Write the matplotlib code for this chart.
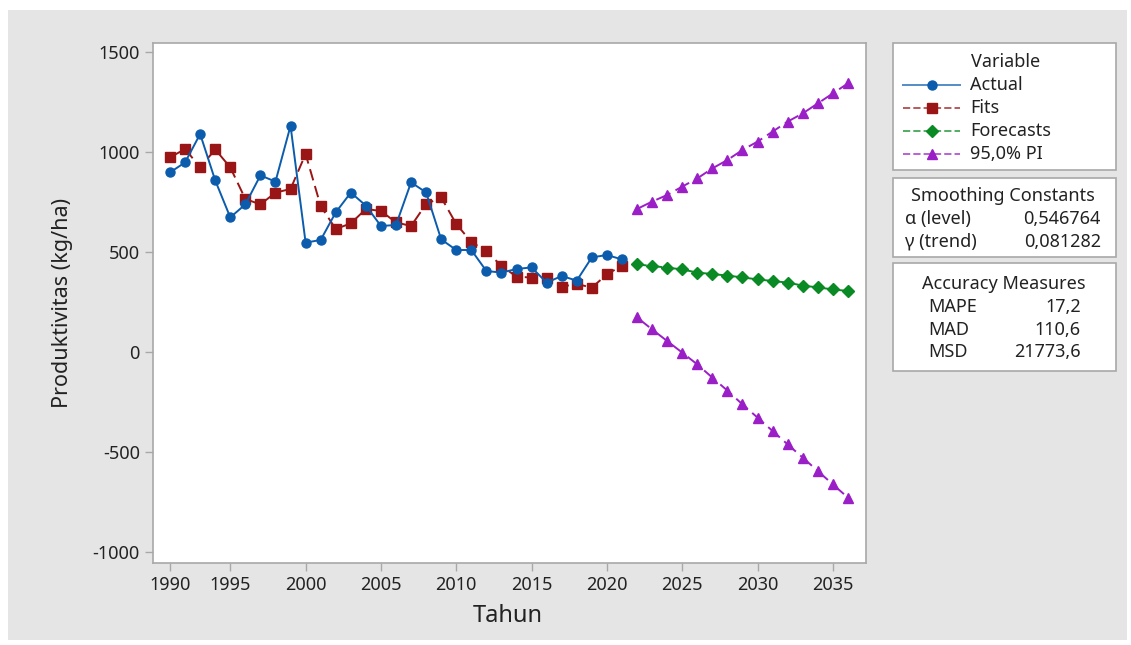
import numpy as np
import matplotlib
matplotlib.use('Agg')
import matplotlib.pyplot as plt
from matplotlib.patches import Rectangle
from matplotlib.lines import Line2D

plt.rcParams['font.family'] = ['Noto Sans', 'DejaVu Sans']
plt.rcParams['axes.unicode_minus'] = False

# Data
years_actual = np.arange(1991, 2022)
actual = [898, 948, 1090, 858, 673, 738, 883, 852, 1131, 547,
          560, 698, 797, 732, 630, 635, 848, 798, 563, 510,
          510, 405, 397, 415, 423, 347, 380, 357, 473, 485, 463]
fits = [973, 1015, 923, 1013, 923, 765, 738, 797, 815, 990,
        730, 615, 643, 715, 705, 648, 630, 740, 773, 640,
        550, 505, 430, 377, 372, 372, 327, 340, 322, 388, 432]

years_fc = np.arange(2022, 2037)
forecasts = [438, 430, 422, 413, 397, 390, 382, 373, 363, 355, 347, 332, 323, 313, 305]
upper_pi = [715, 752, 785, 827, 868, 918, 960, 1010, 1052, 1102, 1152, 1193, 1243, 1293, 1343]
lower_pi = [173, 113, 55, -3, -62, -128, -193, -262, -328, -395, -462, -528, -595, -662, -728]

tick_pos = [1991, 1995, 2000, 2005, 2010, 2015, 2020, 2025, 2030, 2035]
tick_labels = ['1990', '1995', '2000', '2005', '2010', '2015', '2020', '2025', '2030', '2035']

smoothing = [('α (level)', '0,546764'), ('γ (trend)', '0,081282')]
accuracy = [('MAPE', '17,2'), ('MAD', '110,6'), ('MSD', '21773,6')]

W, H = 1131, 645
fig = plt.figure(figsize=(W / 100, H / 100), dpi=100)
fig.patch.set_facecolor('white')
bg = '#e5e5e5'
fig.patches.append(Rectangle((8 / W, 5 / H), 1119 / W, 630 / H, transform=fig.transFigure,
                             facecolor=bg, edgecolor='none', zorder=-10))

ax = fig.add_axes([153 / W, 1 - 563 / H, 713 / W, 520 / H])
ax.set_facecolor('white')

blue = '#0b5cad'
red = '#9a1515'
green = '#0a8a24'
purple = '#9b1fc6'

ax.plot(years_actual, actual, color=blue, lw=1.4, marker='o', ms=6.5, mec=blue, mfc=blue, zorder=4)
ax.plot(years_actual, fits, color=red, lw=1.4, ls=(0, (6, 3)), marker='s', ms=6.5, mec=red, mfc=red, zorder=3)
ax.plot(years_fc, forecasts, color=green, lw=1.4, ls=(0, (5, 3)), marker='D', ms=6, mec=green, mfc=green, zorder=3)
ax.plot(years_fc, upper_pi, color=purple, lw=1.4, ls=(0, (8, 3)), marker='^', ms=7.5, mec=purple, mfc=purple, zorder=3)
ax.plot(years_fc, lower_pi, color=purple, lw=1.4, ls=(0, (8, 3)), marker='^', ms=7.5, mec=purple, mfc=purple, zorder=3)

ax.set_xlim(1989.87, 2037.2)
ax.set_ylim(-1055, 1545)
ax.set_xticks(tick_pos)
ax.set_xticklabels(tick_labels)
ax.set_yticks([-1000, -500, 0, 500, 1000, 1500])

for s in ax.spines.values():
    s.set_color('#a8a8a8')
    s.set_linewidth(1.2)
ax.tick_params(direction='out', length=6, width=1, color='#a8a8a8', labelsize=13, labelcolor='#222222')
ax.set_xlabel('Tahun', fontsize=17, color='#222222')
ax.set_ylabel('Produktivitas (kg/ha)', fontsize=15.5, color='#222222')
ax.xaxis.set_label_coords(0.498, -0.078)
ax.yaxis.set_label_coords(-0.112, 0.5)

# side boxes
def box(y0, y1):
    fig.patches.append(Rectangle((893 / W, 1 - y1 / H), 223 / W, (y1 - y0) / H,
                                 transform=fig.transFigure, facecolor='white',
                                 edgecolor='#a8a8a8', lw=1.2))

box(43, 170)
box(178, 257)
box(263, 371)

tc = '#222222'
fs = 13
fig.text(1006 / W, 1 - 62 / H, 'Variable', ha='center', va='center', fontsize=fs, color=tc)
handles = [
    Line2D([0], [0], color=blue, lw=1.4, marker='o', ms=6.5),
    Line2D([0], [0], color=red, lw=1.4, ls=(0, (6, 3)), marker='s', ms=6.5),
    Line2D([0], [0], color=green, lw=1.4, ls=(0, (5, 3)), marker='D', ms=6),
    Line2D([0], [0], color=purple, lw=1.4, ls=(0, (8, 3)), marker='^', ms=7.5),
]
names = ['Actual', 'Fits', 'Forecasts', '95,0% PI']
row_y = [85, 108, 131, 154]
for h, n, yy in zip(handles, names, row_y):
    fig.lines.append(Line2D([903 / W, 960 / W], [1 - yy / H, 1 - yy / H], transform=fig.transFigure,
                            color=h.get_color(), lw=1.4, ls=h.get_linestyle(), alpha=0.7))
    fig.lines.append(Line2D([931.5 / W], [1 - yy / H], transform=fig.transFigure,
                            color=h.get_color(), marker=h.get_marker(), ms=h.get_markersize(), ls='none'))
    fig.text(970 / W, 1 - yy / H, n, ha='left', va='center', fontsize=fs, color=tc)

fig.text(1003 / W, 1 - 196 / H, 'Smoothing Constants', ha='center', va='center', fontsize=fs, color=tc)
for (k, v), yy in zip(smoothing, [219, 242]):
    fig.text(905 / W, 1 - yy / H, k, ha='left', va='center', fontsize=fs, color=tc)
    fig.text(1101 / W, 1 - yy / H, v, ha='right', va='center', fontsize=fs, color=tc)

fig.text(1004 / W, 1 - 284 / H, 'Accuracy Measures', ha='center', va='center', fontsize=fs, color=tc)
for (k, v), yy in zip(accuracy, [307, 330, 352]):
    fig.text(928 / W, 1 - yy / H, k, ha='left', va='center', fontsize=fs, color=tc)
    fig.text(1081 / W, 1 - yy / H, v, ha='right', va='center', fontsize=fs, color=tc)

fig.savefig('out.png', dpi=100, facecolor=fig.get_facecolor())
